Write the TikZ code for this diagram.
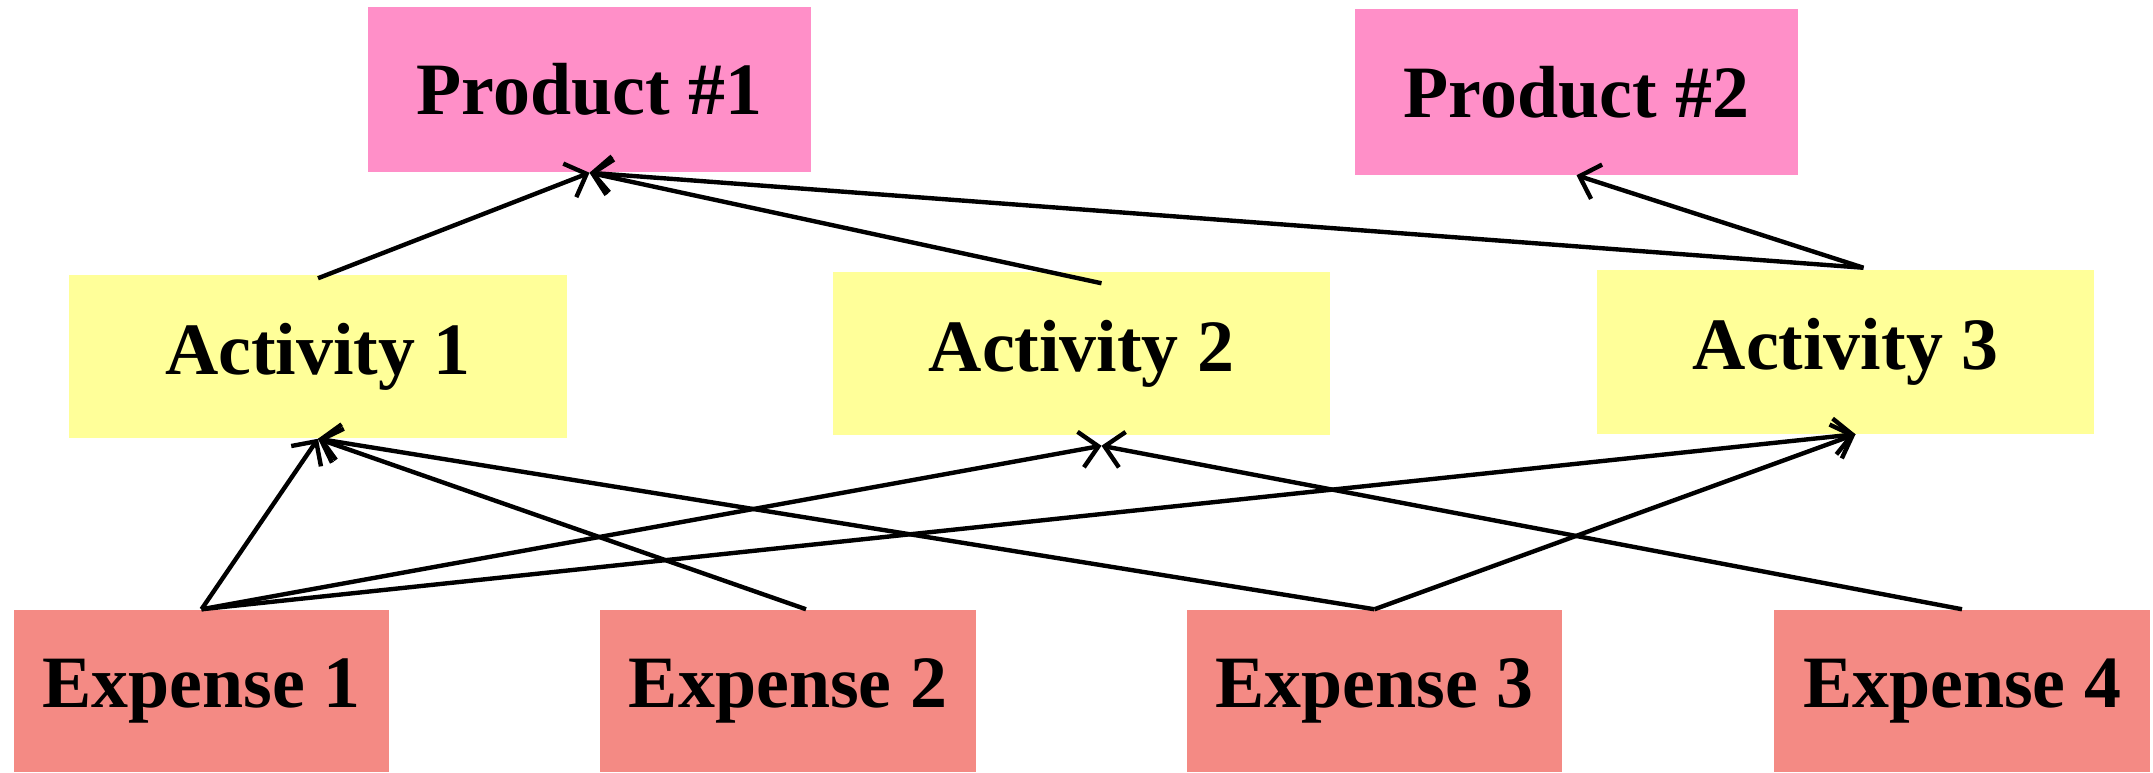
\documentclass[tikz,border=0pt]{standalone}
\usepackage{fontspec}
\setmainfont{Liberation Serif}
\usetikzlibrary{arrows.meta, positioning}
\definecolor{prodpink}{RGB}{255,143,200}
\definecolor{actyellow}{RGB}{255,255,153}
\definecolor{expsalmon}{RGB}{244,138,132}
\tikzset{
  box/.style={inner sep=0pt, font=\fontsize{21}{25}\selectfont\bfseries},
  product/.style={box, fill=prodpink, minimum width=4.43cm, minimum height=1.65cm},
  activity/.style={box, fill=actyellow, minimum width=4.97cm, minimum height=1.63cm},
  expense/.style={box, fill=expsalmon, minimum width=3.75cm, minimum height=1.62cm},
  flow/.style={-{Straight Barb[length=1.8mm,width=3.6mm]}, line width=1.25pt}
}
\begin{document}
\begin{tikzpicture}[x=0.01cm, y=-0.01cm]
\useasboundingbox (0,0) rectangle (2153,772);
%% products
  \node[product] (p1) at (589.5,89.5) {Product \#1};
  \node[product] (p2) at (1576.5,92) {Product \#2};
%% activities
  \node[activity] (a1) at (318,356.5) {Activity 1};
  \node[activity] (a2) at (1081.5,353.5) {Activity 2};
  \node[activity] (a3) at (1845.5,352) {Activity 3};
%% expenses
  \node[expense] (e1) at (201.5,691) {Expense 1};
  \node[expense] (e2) at (788,691) {Expense 2};
  \node[expense] (e3) at (1374.5,691) {Expense 3};
  \node[expense] (e4) at (1962,691) {Expense 4};
%% activities to products
  \draw[flow] ([yshift=-0.04cm]a1.north) -- (p1.south);
  \draw[flow] ([xshift=0.2cm,yshift=-0.12cm]a2.north) -- (p1.south);
  \draw[flow] ([xshift=0.18cm,yshift=0.02cm]a3.north) -- (p1.south);
  \draw[flow] ([xshift=0.18cm,yshift=0.02cm]a3.north) -- (p2.south);
%% expenses to activities
  \draw[flow] (e1.north) -- (a1.south);
  \draw[flow] (e1.north) -- ([xshift=0.2cm,yshift=-0.1cm]a2.south);
  \draw[flow] (e1.north) -- ([xshift=0.1cm]a3.south);
  \draw[flow] ([xshift=0.18cm]e2.north) -- (a1.south);
  \draw[flow] (e3.north) -- (a1.south);
  \draw[flow] (e3.north) -- ([xshift=0.1cm]a3.south);
  \draw[flow] (e4.north) -- ([xshift=0.2cm,yshift=-0.1cm]a2.south);
\end{tikzpicture}
\end{document}
